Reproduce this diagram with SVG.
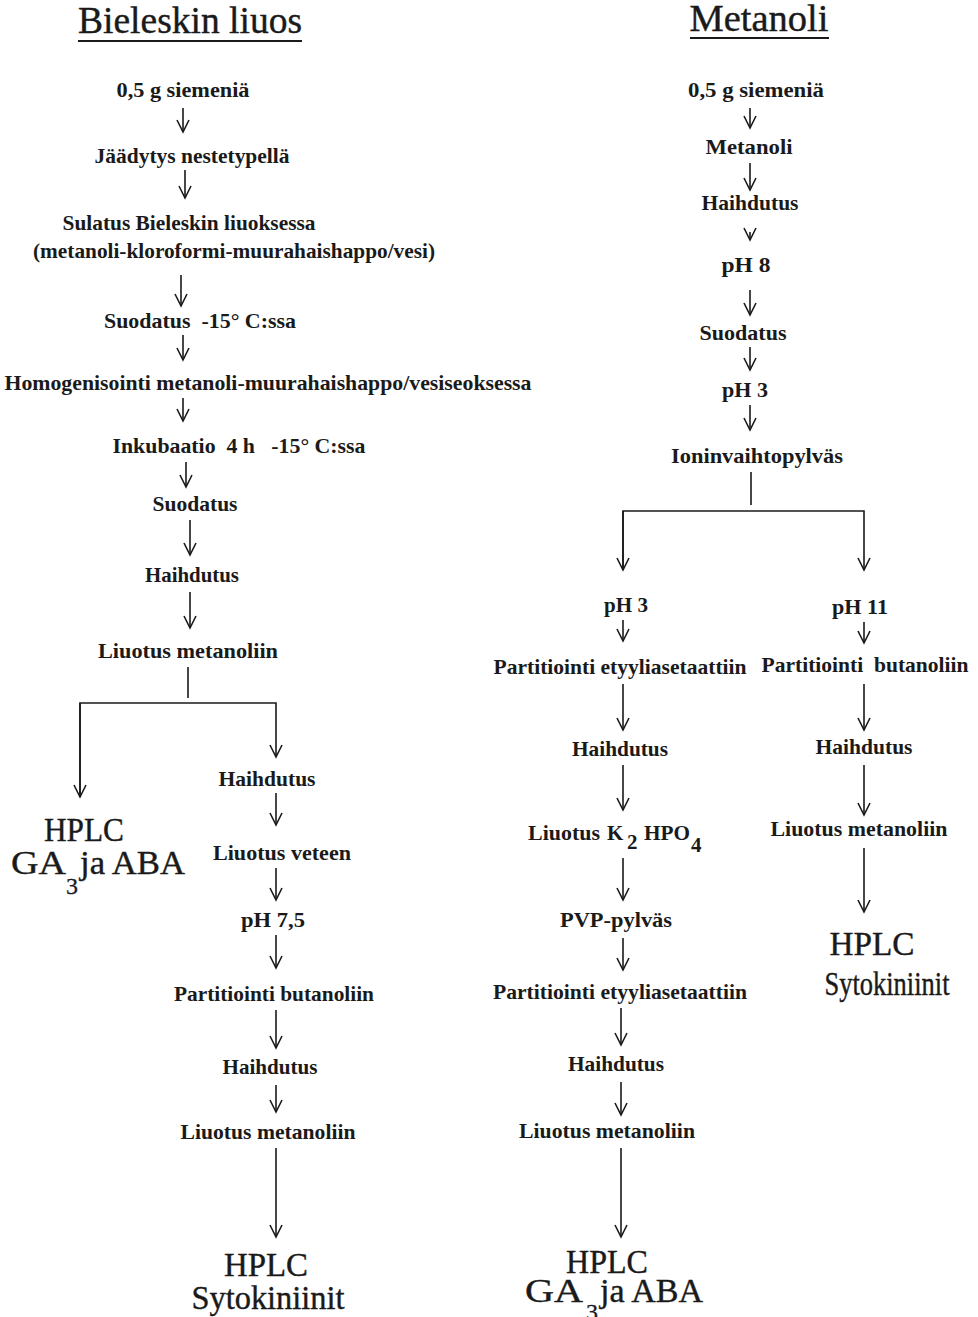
<svg xmlns="http://www.w3.org/2000/svg" width="978" height="1317" viewBox="0 0 978 1317">
<style>
.t{font-family:"Liberation Serif","Times New Roman",serif;font-weight:bold;font-size:21px;fill:#1a1a1a;text-anchor:middle}
.h{font-family:"Liberation Serif","Times New Roman",serif;font-size:37px;fill:#1a1a1a;text-anchor:middle;stroke:#1a1a1a;stroke-width:0.4}
.b{font-family:"Liberation Serif","Times New Roman",serif;font-size:33px;fill:#1a1a1a;stroke:#1a1a1a;stroke-width:0.4}
.s{font-family:"Liberation Serif","Times New Roman",serif;font-size:24px;fill:#1a1a1a;stroke:#1a1a1a;stroke-width:0.3}
.c line,.c path{stroke:#1a1a1a;stroke-width:1.6;fill:none}
</style>
<defs>
<marker id="a" viewBox="-13 -7 15 14" refX="0" refY="0" markerWidth="15" markerHeight="14" markerUnits="userSpaceOnUse" orient="auto">
<path d="M-12,-6 L0,0 L-12,6" fill="none" stroke="#1a1a1a" stroke-width="1.6"/>
</marker>
</defs>
<rect width="978" height="1317" fill="#fff"/>

<g id="title-left"><text class="h" x="190" y="33" textLength="224" lengthAdjust="spacingAndGlyphs">Bieleskin liuos</text><line x1="78" y1="41" x2="302" y2="41" stroke="#1a1a1a" stroke-width="2"/></g>
<g id="title-right"><text class="h" x="759" y="31" textLength="139" lengthAdjust="spacingAndGlyphs">Metanoli</text><line x1="690" y1="38" x2="829" y2="38" stroke="#1a1a1a" stroke-width="2"/></g>

<!-- left column -->
<g id="L1"><text class="t" x="183" y="97" textLength="133" lengthAdjust="spacingAndGlyphs">0,5 g siemeniä</text></g>
<g id="L2"><text class="t" x="192" y="163" textLength="195" lengthAdjust="spacingAndGlyphs">Jäädytys nestetypellä</text></g>
<g id="L3"><text class="t" x="189" y="230" textLength="253" lengthAdjust="spacingAndGlyphs">Sulatus Bieleskin liuoksessa</text><text class="t" x="234" y="258" textLength="402" lengthAdjust="spacingAndGlyphs">(metanoli-kloroformi-muurahaishappo/vesi)</text></g>
<g id="L4"><text class="t" x="200" y="328" textLength="192" lengthAdjust="spacingAndGlyphs" xml:space="preserve">Suodatus  -15° C:ssa</text></g>
<g id="L5"><text class="t" x="268" y="390" textLength="527" lengthAdjust="spacingAndGlyphs">Homogenisointi metanoli-muurahaishappo/vesiseoksessa</text></g>
<g id="L6"><text class="t" x="239" y="453" textLength="253" lengthAdjust="spacingAndGlyphs" xml:space="preserve">Inkubaatio  4 h   -15° C:ssa</text></g>
<g id="L7"><text class="t" x="195" y="511" textLength="85" lengthAdjust="spacingAndGlyphs">Suodatus</text></g>
<g id="L8"><text class="t" x="192" y="582" textLength="94" lengthAdjust="spacingAndGlyphs">Haihdutus</text></g>
<g id="L9"><text class="t" x="188" y="658" textLength="180" lengthAdjust="spacingAndGlyphs">Liuotus metanoliin</text></g>
<g id="L-HPLC"><text class="b" x="84" y="841" text-anchor="middle" textLength="80" lengthAdjust="spacingAndGlyphs">HPLC</text><text class="b" x="11" y="874" textLength="55" lengthAdjust="spacingAndGlyphs">GA</text><text class="s" x="66" y="894">3</text><text class="b" x="80" y="874" textLength="105" lengthAdjust="spacingAndGlyphs">ja ABA</text></g>
<g id="L10"><text class="t" x="267" y="786" textLength="97" lengthAdjust="spacingAndGlyphs">Haihdutus</text></g>
<g id="L11"><text class="t" x="282" y="860" textLength="138" lengthAdjust="spacingAndGlyphs">Liuotus veteen</text></g>
<g id="L12"><text class="t" x="273" y="927" textLength="64" lengthAdjust="spacingAndGlyphs">pH 7,5</text></g>
<g id="L13"><text class="t" x="274" y="1001" textLength="200" lengthAdjust="spacingAndGlyphs">Partitiointi butanoliin</text></g>
<g id="L14"><text class="t" x="270" y="1074" textLength="95" lengthAdjust="spacingAndGlyphs">Haihdutus</text></g>
<g id="L15"><text class="t" x="268" y="1139" textLength="175" lengthAdjust="spacingAndGlyphs">Liuotus metanoliin</text></g>
<g id="L-HPLC2"><text class="b" x="266" y="1276" text-anchor="middle" textLength="84" lengthAdjust="spacingAndGlyphs">HPLC</text><text class="b" x="268" y="1309" text-anchor="middle" textLength="153" lengthAdjust="spacingAndGlyphs">Sytokiniinit</text></g>

<!-- right column -->
<g id="R1"><text class="t" x="756" y="97" textLength="136" lengthAdjust="spacingAndGlyphs">0,5 g siemeniä</text></g>
<g id="R2"><text class="t" x="749" y="154" textLength="87" lengthAdjust="spacingAndGlyphs">Metanoli</text></g>
<g id="R3"><text class="t" x="750" y="210" textLength="97" lengthAdjust="spacingAndGlyphs">Haihdutus</text></g>
<g id="R4"><text class="t" x="746" y="272" textLength="49" lengthAdjust="spacingAndGlyphs">pH 8</text></g>
<g id="R5"><text class="t" x="743" y="340" textLength="87" lengthAdjust="spacingAndGlyphs">Suodatus</text></g>
<g id="R6"><text class="t" x="745" y="397" textLength="46" lengthAdjust="spacingAndGlyphs">pH 3</text></g>
<g id="R7"><text class="t" x="757" y="463" textLength="172" lengthAdjust="spacingAndGlyphs">Ioninvaihtopylväs</text></g>
<g id="R8"><text class="t" x="626" y="612" textLength="44" lengthAdjust="spacingAndGlyphs">pH 3</text></g>
<g id="R9"><text class="t" x="620" y="674" textLength="253" lengthAdjust="spacingAndGlyphs">Partitiointi etyyliasetaattiin</text></g>
<g id="R10"><text class="t" x="620" y="756" textLength="96" lengthAdjust="spacingAndGlyphs">Haihdutus</text></g>
<g id="R11"><text class="t" x="528" y="840" style="text-anchor:start" textLength="72" lengthAdjust="spacingAndGlyphs">Liuotus</text><text class="t" x="607" y="840" style="text-anchor:start">K</text><text class="t" x="627" y="849" style="text-anchor:start">2</text><text class="t" x="644" y="840" style="text-anchor:start" textLength="46" lengthAdjust="spacingAndGlyphs">HPO</text><text class="t" x="691" y="852" style="text-anchor:start">4</text></g>
<g id="R12"><text class="t" x="616" y="927" textLength="112" lengthAdjust="spacingAndGlyphs">PVP-pylväs</text></g>
<g id="R13"><text class="t" x="620" y="999" textLength="254" lengthAdjust="spacingAndGlyphs">Partitiointi etyyliasetaattiin</text></g>
<g id="R14"><text class="t" x="616" y="1071" textLength="96" lengthAdjust="spacingAndGlyphs">Haihdutus</text></g>
<g id="R15"><text class="t" x="607" y="1138" textLength="176" lengthAdjust="spacingAndGlyphs">Liuotus metanoliin</text></g>
<g id="R-HPLC"><text class="b" x="607" y="1273" text-anchor="middle" textLength="82" lengthAdjust="spacingAndGlyphs">HPLC</text><text class="b" x="525" y="1302" textLength="58" lengthAdjust="spacingAndGlyphs">GA</text><text class="s" x="586" y="1320">3</text><text class="b" x="600" y="1302" textLength="103" lengthAdjust="spacingAndGlyphs">ja ABA</text></g>
<g id="R16"><text class="t" x="860" y="614" textLength="56" lengthAdjust="spacingAndGlyphs">pH 11</text></g>
<g id="R17"><text class="t" x="865" y="672" textLength="207" lengthAdjust="spacingAndGlyphs" xml:space="preserve">Partitiointi  butanoliin</text></g>
<g id="R18"><text class="t" x="864" y="754" textLength="97" lengthAdjust="spacingAndGlyphs">Haihdutus</text></g>
<g id="R19"><text class="t" x="859" y="836" textLength="177" lengthAdjust="spacingAndGlyphs">Liuotus metanoliin</text></g>
<g id="R-HPLC2"><text class="b" x="872" y="955" text-anchor="middle" textLength="85" lengthAdjust="spacingAndGlyphs">HPLC</text><text class="b" x="887" y="995" text-anchor="middle" textLength="125" lengthAdjust="spacingAndGlyphs">Sytokiniinit</text></g>

<g id="connectors" class="c">
<line x1="183" y1="108" x2="183" y2="132" marker-end="url(#a)"/>
<line x1="185" y1="170" x2="185" y2="198" marker-end="url(#a)"/>
<line x1="181" y1="275" x2="181" y2="306" marker-end="url(#a)"/>
<line x1="183" y1="335" x2="183" y2="360" marker-end="url(#a)"/>
<line x1="183" y1="398" x2="183" y2="421" marker-end="url(#a)"/>
<line x1="186" y1="462" x2="186" y2="487" marker-end="url(#a)"/>
<line x1="190" y1="520" x2="190" y2="555" marker-end="url(#a)"/>
<line x1="190" y1="592" x2="190" y2="628" marker-end="url(#a)"/>
<line x1="188" y1="667" x2="188" y2="698"/>
<path d="M80,797 L80,703 L276,703 L276,757" marker-end="url(#a)"/>
<line x1="80" y1="703" x2="80" y2="797" marker-end="url(#a)"/>
<line x1="276" y1="793" x2="276" y2="825" marker-end="url(#a)"/>
<line x1="276" y1="868" x2="276" y2="900" marker-end="url(#a)"/>
<line x1="276" y1="935" x2="276" y2="968" marker-end="url(#a)"/>
<line x1="276" y1="1010" x2="276" y2="1048" marker-end="url(#a)"/>
<line x1="276" y1="1085" x2="276" y2="1112" marker-end="url(#a)"/>
<line x1="276" y1="1148" x2="276" y2="1237" marker-end="url(#a)"/>

<line x1="750" y1="108" x2="750" y2="128" marker-end="url(#a)"/>
<line x1="750" y1="163" x2="750" y2="190" marker-end="url(#a)"/>
<line x1="750" y1="232" x2="750" y2="240" marker-end="url(#a)"/>
<line x1="750" y1="290" x2="750" y2="315" marker-end="url(#a)"/>
<line x1="750" y1="347" x2="750" y2="370" marker-end="url(#a)"/>
<line x1="750" y1="405" x2="750" y2="430" marker-end="url(#a)"/>
<line x1="751" y1="472" x2="751" y2="505"/>
<path d="M623,570 L623,511 L864,511 L864,570" marker-end="url(#a)"/>
<line x1="623" y1="511" x2="623" y2="570" marker-end="url(#a)"/>
<line x1="623" y1="620" x2="623" y2="641" marker-end="url(#a)"/>
<line x1="864" y1="622" x2="864" y2="643" marker-end="url(#a)"/>
<line x1="623" y1="684" x2="623" y2="730" marker-end="url(#a)"/>
<line x1="623" y1="765" x2="623" y2="810" marker-end="url(#a)"/>
<line x1="623" y1="858" x2="623" y2="900" marker-end="url(#a)"/>
<line x1="623" y1="938" x2="623" y2="970" marker-end="url(#a)"/>
<line x1="621" y1="1008" x2="621" y2="1045" marker-end="url(#a)"/>
<line x1="621" y1="1082" x2="621" y2="1115" marker-end="url(#a)"/>
<line x1="621" y1="1148" x2="621" y2="1237" marker-end="url(#a)"/>
<line x1="864" y1="684" x2="864" y2="730" marker-end="url(#a)"/>
<line x1="864" y1="765" x2="864" y2="815" marker-end="url(#a)"/>
<line x1="864" y1="848" x2="864" y2="912" marker-end="url(#a)"/>
</g>
</svg>
